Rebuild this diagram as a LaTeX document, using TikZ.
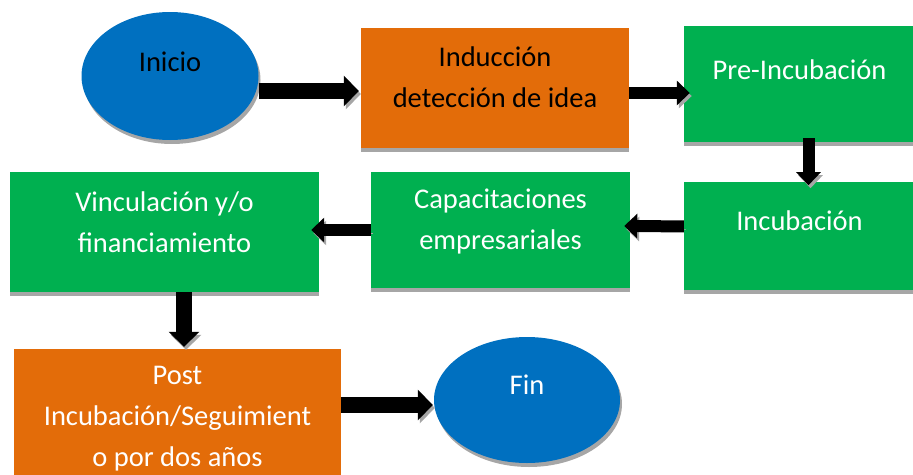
\documentclass[tikz,border=0pt]{standalone}
\usepackage{fontspec}
\setmainfont{Carlito}
\usepackage{tikz}
\usetikzlibrary{arrows.meta,positioning,shapes.geometric,shadows}
\definecolor{azul}{HTML}{0070C0}
\definecolor{naranja}{HTML}{E36C09}
\definecolor{verde}{HTML}{00B050}
\definecolor{sombra}{HTML}{A6A6A6}

\begin{document}
\begin{tikzpicture}[x=1pt, y=-1pt, node distance=40pt,
    texto/.style={font=\fontsize{28.5}{41}\selectfont, align=center, inner sep=0pt},
    caja/.style={rectangle, inner sep=0pt, drop shadow={shadow xshift=0pt, shadow yshift=-4pt, opacity=1, fill=sombra}},
    ovalo/.style={ellipse, fill=azul, inner sep=0pt, drop shadow={shadow xshift=2pt, shadow yshift=-4pt, opacity=1, fill=sombra}},
    flecha/.style={-{Triangle[length=13pt, width=24pt]}, line width=12pt, preaction={draw=sombra, transform canvas={shift={(2pt,-3pt)}}}},
    flechagruesa/.style={flecha, -{Triangle[length=15pt, width=30pt]}, line width=16pt}]
    \useasboundingbox (0,0) rectangle (913,474);
    \node[ovalo, minimum width=177pt, minimum height=128pt, label={[texto, yshift=14pt]center:Inicio}] (inicio) at (170,76) {};
    \node[caja, fill=naranja, minimum width=268pt, minimum height=120pt, label={[texto, yshift=10.5pt]center:Inducción\\detección de idea}] (induccion) at (495,88) {};
    \node[caja, fill=verde, minimum width=231pt, minimum height=116pt, label={[texto, text=white, yshift=14pt]center:Pre-Incubación}] (pre) at (799.5,84) {};
    \node[caja, fill=verde, minimum width=231pt, minimum height=108pt, below=of pre, label={[texto, text=white, yshift=16pt]center:Incubación}] (incubacion) {};
    \node[caja, fill=verde, minimum width=259pt, minimum height=116pt, label={[texto, text=white, yshift=9pt]center:Capacitaciones\\empresariales}] (capacitaciones) at (500.5,230) {};
    \node[caja, fill=verde, minimum width=309pt, minimum height=120pt, label={[texto, text=white, yshift=9.5pt]center:Vinculación y/o\\financiamiento}] (vinculacion) at (164.5,232) {};
    \node[caja, fill=naranja, minimum width=327pt, minimum height=140pt, label={[texto, text=white]center:Post\\Incubación/Seguimient\\o por dos años}] (post) at (177.5,419) {};
    \node[ovalo, minimum width=186pt, minimum height=126pt, label={[texto, text=white, yshift=15pt]center:Fin}] (fin) at (527,400) {};

    \draw[flechagruesa] ([yshift=-15pt]inicio.east) -- ([xshift=-2pt, yshift=-3pt]induccion.west);
    \draw[flecha] ([yshift=-5pt]induccion.east) -- ([xshift=6pt, yshift=-9pt]pre.west);
    \draw[flecha] ([xshift=9pt, yshift=4pt]pre.south) -- ([xshift=9pt, yshift=-3pt]incubacion.north);
    \draw[flecha] ([yshift=10pt]incubacion.west) -- ([xshift=-6pt, yshift=4pt]capacitaciones.east);
    \draw[flecha] (capacitaciones.west) -- ([xshift=-8pt, yshift=2pt]vinculacion.east);
    \draw[flechagruesa] ([xshift=19.5pt]vinculacion.south) -- ([xshift=6.5pt, yshift=2pt]post.north);
    \draw[flechagruesa] ([yshift=14pt]post.east) -- ([xshift=-1pt, yshift=-5pt]fin.west);
\end{tikzpicture}
\end{document}
